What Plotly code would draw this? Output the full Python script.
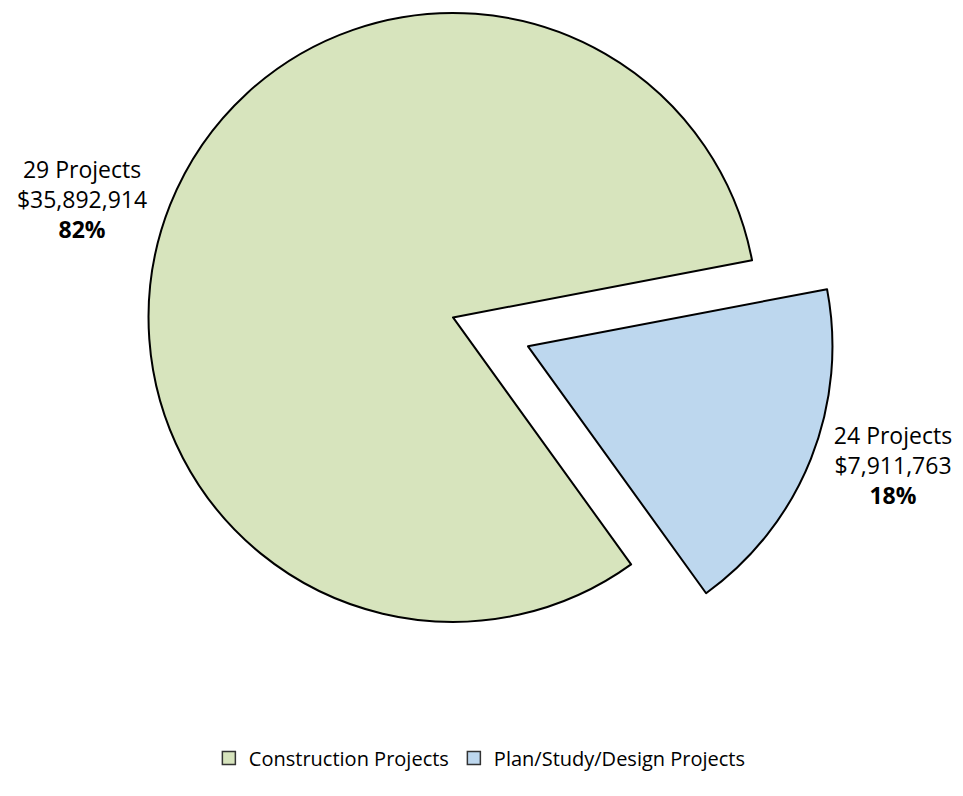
import plotly.graph_objects as go

labels = ["Construction Projects", "Plan/Study/Design Projects"]
values = [35892914, 7911763]
projects = [29, 24]
colors = ["#D7E4BD", "#BDD7EE"]

W, H = 963, 796
R = 306
cx, cy = 445, 307           # centre of main pie (px, figure coords)
ox, oy = 75, 29             # explode offset of the small slice (px)

def dom(cxp, cyp):
    return dict(x=[(cxp - R) / W, (cxp + R) / W],
                y=[1 - (cyp + R) / H, 1 - (cyp - R) / H])

tmpl = "%{customdata} Projects<br>$%{value:,}<br><b>%{percent:.0%}</b>"
font = "Open Sans, Lato, sans-serif"

fig = go.Figure()
# main (construction) slice
fig.add_trace(go.Pie(
    labels=labels, values=values, customdata=projects,
    sort=False, direction="clockwise", rotation=144.2,
    marker=dict(colors=[colors[0], "rgba(0,0,0,0)"],
                line=dict(color="black", width=[2, 0])),
    texttemplate=[tmpl, ""], textposition="outside",
    textfont=dict(family=font, size=23, color="black"),
    domain=dom(cx, cy), showlegend=False, hoverinfo="label+value+percent",
))
# exploded (plan/study/design) slice
fig.add_trace(go.Pie(
    labels=labels, values=values, customdata=projects,
    sort=False, direction="clockwise", rotation=144.2,
    marker=dict(colors=["rgba(0,0,0,0)", colors[1]],
                line=dict(color="black", width=[0, 2])),
    texttemplate=["", tmpl], textposition="outside",
    textfont=dict(family=font, size=23, color="black"),
    domain=dom(cx + ox, cy + oy), showlegend=False, hoverinfo="label+value+percent",
))
# legend entries
for lab, col in zip(labels, colors):
    fig.add_trace(go.Scatter(
        x=[None], y=[None], mode="markers", name=lab,
        marker=dict(symbol="square", size=13, color=col,
                    line=dict(color="#333333", width=1.5)),
    ))

fig.update_layout(
    width=W, height=H,
    margin=dict(l=0, r=0, t=0, b=0),
    paper_bgcolor="white", plot_bgcolor="white",
    xaxis=dict(visible=False), yaxis=dict(visible=False),
    font=dict(family=font, size=20, color="black"),
    legend=dict(orientation="h", x=0.49, xanchor="center", y=0.058, yanchor="middle",
                font=dict(family=font, size=20, color="black"),
                itemwidth=30, tracegroupgap=0),
)
fig.write_html("out.html")
